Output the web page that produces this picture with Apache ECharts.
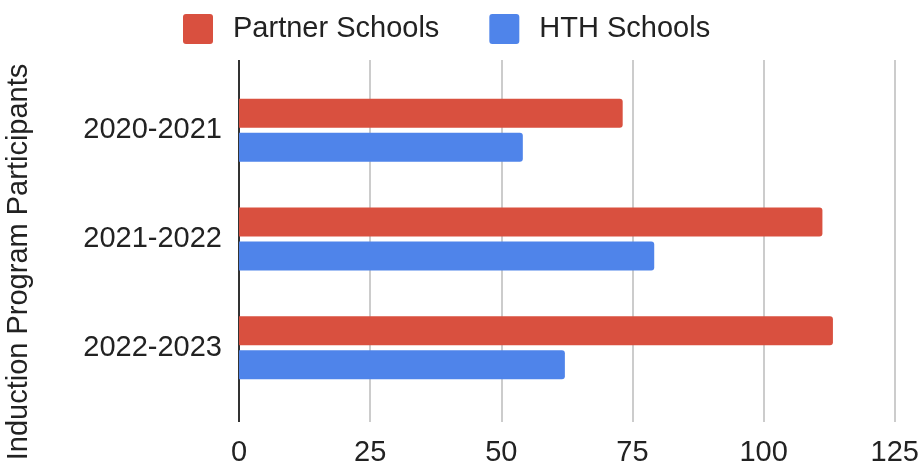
<!DOCTYPE html>
<html>
<head>
<meta charset="utf-8">
<script src="https://cdn.jsdelivr.net/npm/echarts@6/dist/echarts.min.js"></script>
<style>
  html, body { margin: 0; padding: 0; background: #fff; }
  #chart { width: 922px; height: 468px; }
</style>
</head>
<body>
<div id="chart"></div>
<script>
// School years shown on the category axis
const years = ['2020-2021', '2021-2022', '2022-2023'];
// Induction program participants per year
const partnerSchools = [73, 111, 113];
const hthSchools = [54, 79, 62];
// Value axis ticks
const xTicks = [0, 25, 50, 75, 100, 125];
const axisTitle = 'Induction Program Participants';

const FONT = "'Liberation Sans', Arial, Helvetica, sans-serif";
const TEXT = '#222222';
const RED = '#d9503f';
const BLUE = '#4f84ea';
// square legend swatch with slightly rounded corners
const SWATCH = 'path://M3,0H27Q30,0 30,3V27Q30,30 27,30H3Q0,30 0,27V3Q0,0 3,0Z';

const chart = echarts.init(document.getElementById('chart'), null, { renderer: 'canvas' });

const xMin = xTicks[0];
const xMax = xTicks[xTicks.length - 1];
const xStep = xTicks[1] - xTicks[0];

chart.setOption({
  animation: false,
  backgroundColor: '#ffffff',
  legend: {
    top: 9,
    left: 178,
    itemWidth: 30,
    itemHeight: 30,
    itemGap: 50,
    icon: SWATCH,
    textStyle: { fontFamily: FONT, fontSize: 29, color: TEXT, padding: [0, 0, 0, 15] },
    data: ['Partner Schools', 'HTH Schools']
  },
  grid: [
    // plotting area for the bars
    { left: 239, right: 26, top: 76, height: 326 },
    // frame that carries the vertical gridlines and tick labels
    { left: 239, right: 26, top: 60, height: 362 }
  ],
  xAxis: [
    { gridIndex: 0, type: 'value', min: xMin, max: xMax, interval: xStep, show: false },
    {
      gridIndex: 1, type: 'value', min: xMin, max: xMax, interval: xStep,
      axisLine: { show: false },
      axisTick: { show: false },
      axisLabel: { fontFamily: FONT, fontSize: 29, color: TEXT, margin: 16 },
      splitLine: {
        show: true,
        lineStyle: {
          width: 2,
          color: xTicks.map((t, i) => (i === 0 ? '#333333' : '#cccccc'))
        }
      }
    }
  ],
  yAxis: [
    {
      gridIndex: 0, type: 'category', inverse: true, data: years,
      axisLine: { show: false },
      axisTick: { show: false },
      splitLine: { show: false },
      axisLabel: { fontFamily: FONT, fontSize: 29, color: TEXT, margin: 17 }
    },
    { gridIndex: 1, type: 'value', show: false, splitLine: { show: false } }
  ],
  graphic: [
    {
      type: 'text',
      x: 19,
      y: 262,
      rotation: Math.PI / 2,
      style: {
        text: axisTitle,
        font: '29px ' + FONT,
        fill: TEXT,
        textAlign: 'center',
        textVerticalAlign: 'middle'
      }
    }
  ],
  series: [
    {
      name: 'Partner Schools', type: 'bar', xAxisIndex: 0, yAxisIndex: 0,
      data: partnerSchools, barWidth: 29, barGap: '17%',
      itemStyle: { color: RED, borderRadius: [0, 3, 3, 0] }
    },
    {
      name: 'HTH Schools', type: 'bar', xAxisIndex: 0, yAxisIndex: 0,
      data: hthSchools, barWidth: 29, barGap: '17%',
      itemStyle: { color: BLUE, borderRadius: [0, 3, 3, 0] }
    }
  ]
});
</script>
</body>
</html>
